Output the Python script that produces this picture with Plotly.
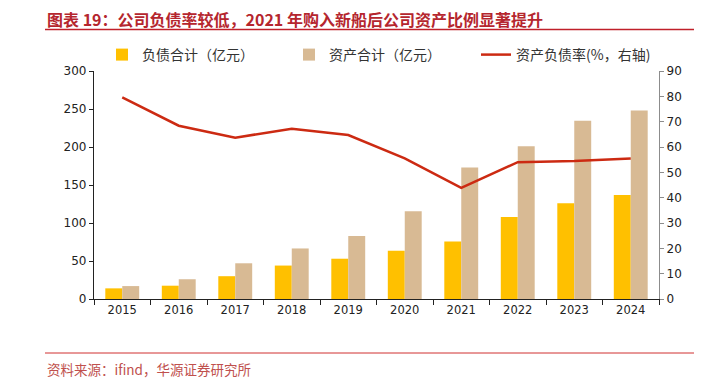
import plotly.graph_objects as go

years = ["2015", "2016", "2017", "2018", "2019", "2020", "2021", "2022", "2023", "2024"]
liabilities = [14, 17.5, 30, 44, 53, 63.5, 75.5, 108, 126, 137]
assets = [17, 26, 47, 66.5, 83, 115.5, 173, 201, 234.5, 248]
debt_ratio = [79.6, 68.4, 63.7, 67.2, 64.7, 55.5, 43.9, 54.0, 54.5, 55.5]

title_text = "图表 19：公司负债率较低，2021 年购入新船后公司资产比例显著提升"
source_text = "资料来源：ifind，华源证券研究所"

W, H = 706, 384
L, R, T, B = 94, 659, 71, 299

def px_x(x):
    return (x - L) / (R - L)

def px_y(y):
    return (B - y) / (B - T)

fig = go.Figure()
fig.add_trace(go.Bar(x=years, y=liabilities, name="负债合计（亿元）",
                     marker=dict(color="#FFC000", line=dict(width=0))))
fig.add_trace(go.Bar(x=years, y=assets, name="资产合计（亿元）",
                     marker=dict(color="#D8BA94", line=dict(width=0))))
fig.add_trace(go.Scatter(x=years, y=debt_ratio, name="资产负债率(%，右轴)", yaxis="y2",
                         mode="lines", line=dict(color="#CC2A12", width=2.5)))

cjk = "Noto Sans CJK SC"
num_font = "DejaVu Sans"

fig.update_layout(
    width=W, height=H,
    margin=dict(l=L, r=W - R, t=T, b=H - B, pad=0, autoexpand=False),
    paper_bgcolor="white", plot_bgcolor="white",
    barmode="group", bargap=0.4, bargroupgap=0,
    showlegend=True,
    legend=dict(orientation="h", x=px_x(102), y=px_y(55), xanchor="left", yanchor="middle",
                entrywidth=142, entrywidthmode="pixels", itemwidth=30,
                font=dict(family=cjk, size=14, color="#333333"),
                bgcolor="rgba(0,0,0,0)", traceorder="normal", itemclick=False),
    xaxis=dict(type="category", showline=True, linecolor="#222222", linewidth=1.2,
               ticks="outside", tickson="boundaries", ticklen=5, tickcolor="#222222",
               tickfont=dict(family=num_font, size=11.5, color="#222222"), showgrid=False),
    yaxis=dict(range=[0, 300], dtick=50, showline=True, linecolor="#222222", linewidth=1.2,
               ticks="outside", ticklen=4, tickcolor="#222222", showgrid=False, zeroline=False,
               tickfont=dict(family=num_font, size=12, color="#222222")),
    yaxis2=dict(range=[0, 90], dtick=10, overlaying="y", side="right", showline=True,
                linecolor="#8C8C8C", linewidth=1.2, ticks="outside", ticklen=4,
                tickcolor="#8C8C8C", showgrid=False, zeroline=False,
                tickfont=dict(family=num_font, size=12, color="#222222")),
    font=dict(family=cjk),
)

fig.add_annotation(text="<b>" + title_text + "</b>", xref="paper", yref="paper",
                   x=px_x(45), y=px_y(19), xanchor="left", yanchor="middle", showarrow=False,
                   font=dict(family=cjk, size=16, color="#B5262E"))
fig.add_annotation(text=source_text, xref="paper", yref="paper",
                   x=px_x(45), y=px_y(369), xanchor="left", yanchor="middle", showarrow=False,
                   font=dict(family=cjk, size=13.5, color="#C0504D"))

fig.add_shape(type="line", xref="paper", yref="paper", x0=px_x(45), x1=px_x(694),
              y0=px_y(29.5), y1=px_y(29.5), line=dict(color="#C0202A", width=1.5))
fig.add_shape(type="line", xref="paper", yref="paper", x0=px_x(45), x1=px_x(694),
              y0=px_y(353), y1=px_y(353), line=dict(color="#D03030", width=1))

fig.write_html("out.html", config={"displayModeBar": False},
               post_script="document.body.style.margin='0';")
